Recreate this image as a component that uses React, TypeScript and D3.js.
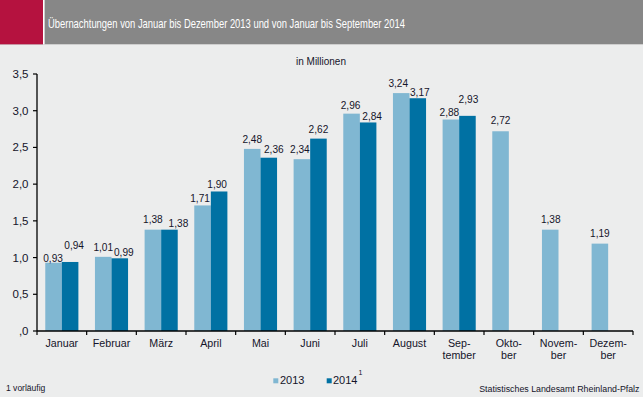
import React from "react";
import * as d3 from "d3";

const months = ["Januar", "Februar", "März", "April", "Mai", "Juni", "Juli", "August", "Sep-\ntember", "Okto-\nber", "Novem-\nber", "Dezem-\nber"];
const values2013 = [0.93, 1.01, 1.38, 1.71, 2.48, 2.34, 2.96, 3.24, 2.88, 2.72, 1.38, 1.19];
const values2014 = [0.94, 0.99, 1.38, 1.90, 2.36, 2.62, 2.84, 3.17, 2.93];
const yTicks = [0, 0.5, 1.0, 1.5, 2.0, 2.5, 3.0, 3.5];

// label nudges (layout only): [dx, gap above bar]
const nudge2013: [number, number][] = [[-0.5, 0.5], [0, 6], [0, 6.5], [-2.5, 3.3], [0, 6], [-2, 6.3], [-1, 5], [-3, 6], [-1.5, 3.3], [0, 7], [0.5, 6.3], [0, 6.8]];
const nudge2014: [number, number][] = [[4, 13], [4, 2.2], [9, 2.6], [-2, 3], [5, 5], [0, 5.7], [4, 2.3], [2, 2], [1, 13]];

const W = 643, H = 397;
const C13 = "#80B7D2";
const C14 = "#0071A3";
const TXT = "#14142A";
const FONT = "'Liberation Sans', Arial, sans-serif";

const fmt = (v: number) => v.toFixed(2).replace(".", ",");
const fmtTick = (v: number) => (v === 0 ? ",0" : v.toFixed(1).replace(".", ","));

function SText({ x, y, sx = 1, anchor = "middle", size = 11.5, children, fill = TXT }: any) {
  return (
    <g transform={`translate(${x},${y}) scale(${sx},1)`}>
      <text x={0} y={0} textAnchor={anchor} fontSize={size} fontFamily={FONT} fill={fill}>{children}</text>
    </g>
  );
}

export default function App() {
  const left = 37, right = 633, top = 74, bottom = 331;
  const x = d3.scaleBand<string>().domain(months).range([left, right]).paddingInner(0).paddingOuter(0);
  const inner = d3.scaleBand<string>().domain(["2013", "2014"]).range([0, x.bandwidth()]).paddingInner(0).paddingOuter(0.5);
  const y = d3.scaleLinear().domain([0, 3.5]).range([bottom, top]);
  const bw = inner.bandwidth();

  return (
    <div style={{ position: "absolute", left: 0, top: 0 }}>
      <svg width={W} height={H} style={{ display: "block" }}>
        <rect x={0} y={0} width={W} height={H} fill="#ECEDED" />
        <rect x={0} y={0} width={W} height={44.3} fill="#878787" />
        <rect x={0} y={0} width={43} height={44.3} fill="#B5123F" />
        <rect x={43} y={0} width={1.6} height={44.3} fill="#FFFFFF" />
        <text x={48} y={27.5} fontSize={13.5} fontFamily={FONT} fill="#FFFFFF" textLength={357} lengthAdjust="spacingAndGlyphs">
          Übernachtungen von Januar bis Dezember 2013 und von Januar bis September 2014
        </text>

        <SText x={321} y={65} size={10.5} sx={0.95}>in Millionen</SText>

        {/* bars */}
        {months.map((m, i) => (
          <g key={m}>
            <rect x={x(m)! + inner("2013")!} y={y(values2013[i])} width={bw} height={bottom - y(values2013[i])} fill={C13} />
            {i < values2014.length && (
              <rect x={x(m)! + inner("2014")!} y={y(values2014[i])} width={bw} height={bottom - y(values2014[i])} fill={C14} />
            )}
          </g>
        ))}

        {/* value labels */}
        {months.map((m, i) => (
          <g key={"l" + m}>
            <SText x={x(m)! + inner("2013")! + bw / 2 + nudge2013[i][0]} y={y(values2013[i]) - nudge2013[i][1]} sx={0.88}>{fmt(values2013[i])}</SText>
            {i < values2014.length && (
              <SText x={x(m)! + inner("2014")! + bw / 2 + nudge2014[i][0]} y={y(values2014[i]) - nudge2014[i][1]} sx={0.88}>{fmt(values2014[i])}</SText>
            )}
          </g>
        ))}

        {/* y axis */}
        <line x1={left} x2={left} y1={top} y2={bottom} stroke="#000" strokeWidth={1.3} />
        {yTicks.map((t) => (
          <g key={t}>
            <line x1={left - 4} x2={left} y1={y(t)} y2={y(t)} stroke="#000" strokeWidth={1.2} />
            <SText x={28.5} y={y(t) + 4} anchor="end" size={11.5}>{fmtTick(t)}</SText>
          </g>
        ))}

        {/* x axis */}
        <line x1={left} x2={right} y1={bottom} y2={bottom} stroke="#000" strokeWidth={1.3} />
        {[...months.map((m) => x(m)!), right].map((px, i) => (
          <line key={i} x1={px} x2={px} y1={bottom} y2={bottom + 4} stroke="#000" strokeWidth={1.2} />
        ))}
        {months.map((m) => {
          const lines = m.split("\n");
          return lines.map((ln, j) => (
            <SText key={m + j} x={x(m)! + x.bandwidth() / 2} y={347 + j * 12} sx={0.93}>{ln}</SText>
          ));
        })}

        {/* legend */}
        <rect x={273.3} y={378.3} width={5} height={5} fill={C13} />
        <SText x={280} y={384} anchor="start" size={11}>2013</SText>
        <rect x={326.7} y={378.3} width={5} height={5} fill={C14} />
        <SText x={333} y={384} anchor="start" size={11}>2014</SText>
        <SText x={358.5} y={375} anchor="start" size={7}>1</SText>

        {/* footnote and source */}
        <SText x={6} y={390.5} anchor="start" size={9.5} sx={0.9}>1 vorläufig</SText>
        <SText x={639.5} y={392} anchor="end" size={9.5} sx={0.93}>Statistisches Landesamt Rheinland-Pfalz</SText>
      </svg>
    </div>
  );
}
